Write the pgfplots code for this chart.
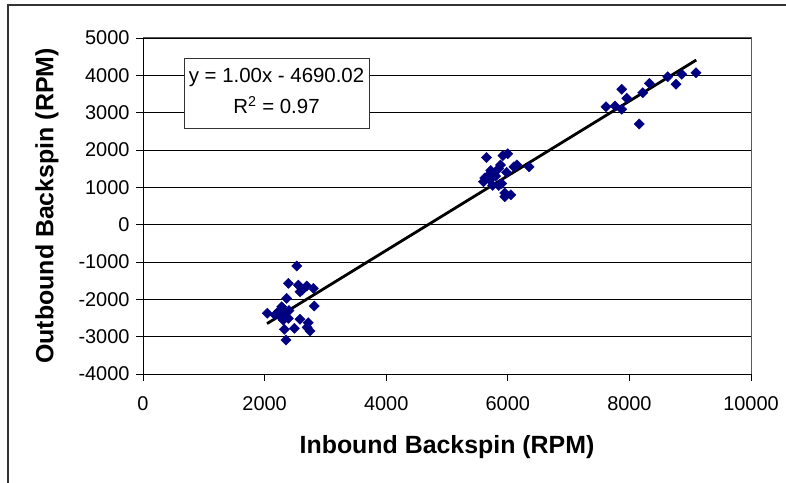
\documentclass[border=0pt]{standalone}
\usepackage{fontspec}
\setmainfont{Liberation Sans}
\usepackage{pgfplots}
\pgfplotsset{compat=1.18}
\definecolor{navy}{RGB}{0,0,128}

\begin{document}
\begin{tikzpicture}[x=1bp,y=1bp]
\useasboundingbox (0,0) rectangle (786,483);
\draw[line width=1.2bp, black!80] (8,-5) -- (8,478) -- (790,478);
\begin{axis}[
    at={(143bp,109bp)}, anchor=south west,
    scale only axis, width=608bp, height=336bp,
    xmin=0, xmax=10000, ymin=-4000, ymax=5000,
    xtick={0,2000,...,10000}, ytick={-4000,-3000,...,5000},
    scaled ticks=false,
    /pgf/number format/.cd, 1000 sep={}, assume math mode=true, /pgfplots/.cd,
    axis lines=left, axis line style={-, black, line width=0.9bp},
    tick align=outside, major tick length=7bp, tick style={black, line width=0.9bp},
    ymajorgrids, major grid style={black, line width=0.8bp},
    ticklabel style={font=\fontsize{20}{24}\selectfont},
    xticklabel style={yshift=-12bp},
    yticklabel style={xshift=-3bp},
    xlabel={Inbound Backspin (RPM)},
    ylabel={Outbound Backspin (RPM)},
    label style={font=\fontsize{25}{30}\selectfont\bfseries},
    xlabel style={at={(axis description cs:0.5,-0.2175)}, anchor=center},
    ylabel style={at={(axis description cs:-0.158,0.5)}, anchor=center},
    clip=false,
]
\draw[black!65, line width=1bp] (rel axis cs:0,1) -- (rel axis cs:1,1) -- (rel axis cs:1,0);
\addplot[only marks, mark=square*, mark size=3.6bp, mark options={rotate=45, fill=navy, draw=navy}]
coordinates {
    (2528,-1108) (2390,-1572) (2555,-1617) (2582,-1796) (2692,-1643)
    (2802,-1706) (2363,-1974) (2818,-2179) (2044,-2375) (2281,-2198)
    (2226,-2332) (2336,-2367) (2390,-2510) (2308,-2554) (2171,-2420)
    (2582,-2536) (2719,-2627) (2489,-2777) (2324,-2804) (2747,-2849)
    (2352,-3090) (2250,-2450) (2400,-2300) (2620,-1750) (2700,-2750)
    (5600,1150) (5620,1250) (5650,1800) (5700,1350) (5720,1450)
    (5750,1050) (5800,1300) (5850,1500) (5880,1600) (5900,1100)
    (5920,1850) (5950,750) (5950,850) (5980,1400) (6000,1900)
    (6050,800) (6100,1550) (6150,1600) (6350,1550) (5850,1050)
    (5700,1200)
    (7615,3160) (7763,3178) (7873,3090) (7873,3626) (7956,3385)
    (8219,3535) (8328,3786) (8163,2696) (8630,3964) (8766,3760)
    (8860,4028) (9095,4071)
};
\addplot[black, line width=2.8bp] coordinates {(2040,-2650) (9100,4410)};
\draw[black!80, line width=0.9bp, fill=white] (axis cs:674,4464) rectangle (axis cs:3717,2589);
\node[font=\fontsize{20.5}{24}\selectfont] at (axis cs:2196,3929) {y = 1.00x - 4690.02};
\node[font=\fontsize{20.5}{24}\selectfont] at (axis cs:2196,3205) {R\textsuperscript{2} = 0.97};
\end{axis}
\end{tikzpicture}
\end{document}
